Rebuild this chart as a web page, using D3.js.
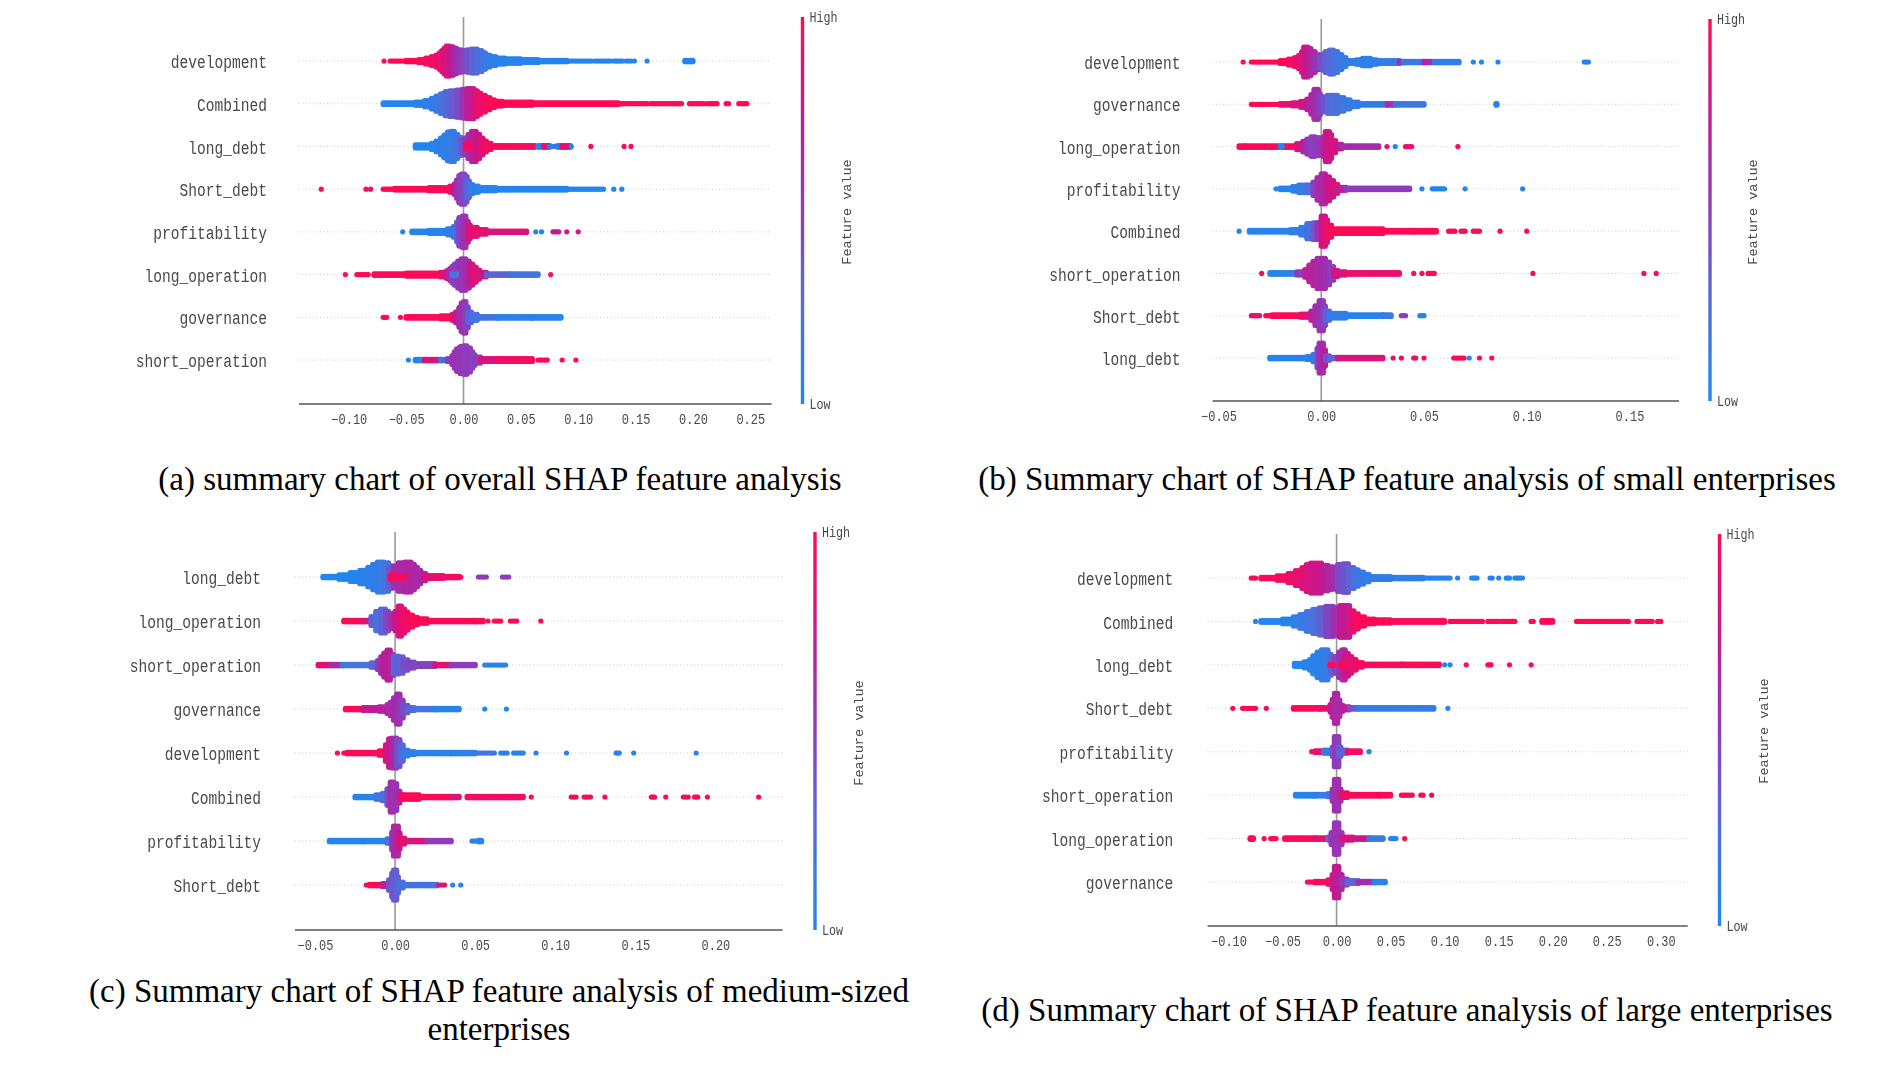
<!DOCTYPE html>
<html><head><meta charset="utf-8">
<script src="https://d3js.org/d3.v7.min.js"></script>
<style>html,body{margin:0;background:#fff}svg{display:block}
.chart{filter:blur(0.55px)}
.mono{font-family:"Liberation Mono",monospace;fill:#4a4a4a}
.cap{font-family:"Liberation Serif",serif;fill:#000;text-anchor:middle}
</style></head><body><svg id="c" width="1902" height="1068"></svg>
<script>
// Each swarm tuple: [shap from, shap to, points stacked at that value, feature value 0..1]
const featuresA=["development","Combined","long_debt","Short_debt","profitability","long_operation","governance","short_operation"];
const featuresB=["development","governance","long_operation","profitability","Combined","short_operation","Short_debt","long_debt"];
const featuresC=["long_debt","long_operation","short_operation","governance","development","Combined","profitability","Short_debt"];
const featuresD=["development","Combined","long_debt","Short_debt","profitability","short_operation","long_operation","governance"];
const ticksA=[-.10,-.05,0,.05,.10,.15,.20,.25];
const ticksB=[-.05,0,.05,.10,.15];
const ticksC=[-.05,0,.05,.10,.15,.20];
const ticksD=[-.10,-.05,0,.05,.10,.15,.20,.25,.30];
const captionA=["(a) summary chart of overall SHAP feature analysis"];
const captionB=["(b) Summary chart of SHAP feature analysis of small enterprises"];
const captionC=["(c) Summary chart of SHAP feature analysis of medium-sized","enterprises"];
const captionD=["(d) Summary chart of SHAP feature analysis of large enterprises"];

const a_development=[[-.0693,-.0693,1,1],[-.064,-.05,1,1],[-.05,-.039,2,1],[-.039,-.033,3,1],[-.033,-.028,5,.97],[-.028,-.024,7,.95],[-.024,-.021,9,.93],[-.021,-.019,12,.9],[-.019,-.017,15,.88],[-.017,-.015,18,.86],[-.015,-.012,21,.82],[-.012,-.009,20,.76],[-.009,-.006,18,.68],[-.006,-.002,16,.58],[-.002,.003,15,.48],[.003,.007,16,.38],[.007,.012,17,.3],[.012,.016,15,.24],[.016,.019,12,.18],[.019,.023,9,.13],[.023,.028,7,.1],[.028,.036,5,.07],[.036,.05,4,.05],[.05,.065,3,.04],[.065,.09,2,.04],[.09,.112,1,.03],[.115,.128,1,.03],[.131,.139,1,.03],[.142,.146,1,.03],[.149,.149,1,.03],[.16,.16,1,.03],[.193,.2,2,.03]];
const a_Combined=[[-.07,-.042,2,.03],[-.042,-.034,3,.05],[-.034,-.028,5,.08],[-.028,-.024,8,.1],[-.024,-.02,11,.15],[-.02,-.016,14,.2],[-.016,-.012,17,.27],[-.012,-.006,18,.33],[-.006,-.001,19,.42],[-.001,.003,20,.55],[.003,.009,21,.72],[.009,.012,18,.85],[.012,.015,15,.9],[.015,.019,12,.93],[.019,.023,9,.96],[.023,.027,6,1],[.027,.034,4,1],[.034,.06,3,1],[.06,.135,2,1],[.137,.16,1,1],[.163,.19,1,1],[.197,.21,1,1],[.213,.221,1,1],[.229,.231,1,1],[.24,.247,1,1]];
const a_long_debt=[[-.042,-.028,3,.03],[-.028,-.024,5,.04],[-.024,-.02,8,.05],[-.02,-.017,12,.07],[-.017,-.014,16,.09],[-.014,-.011,20,.11],[-.011,-.008,21,.13],[-.008,-.005,17,.17],[-.005,-.002,13,.25],[-.002,.001,10,.38],[.001,.004,12,.5],[.004,.007,17,.62],[.007,.011,21,.7],[.011,.014,17,.78],[.014,.017,12,.85],[.017,.02,8,.92],[.02,.024,5,.96],[.024,.062,2,.98],[.065,.07,2,.05],[.07,.075,2,.9],[.075,.08,1,.1],[.082,.085,2,.15],[.086,.093,2,.9],[.094,.094,1,.05],[.111,.111,1,1],[.14,.14,1,1],[.146,.146,1,1],[.002,.006,5,.95]];
const a_Short_debt=[[-.124,-.124,1,1],[-.085,-.085,1,1],[-.081,-.081,1,.9],[-.07,-.06,1,1],[-.06,-.03,2,1],[-.03,-.012,3,1],[-.012,-.008,5,.9],[-.008,-.006,8,.75],[-.006,-.004,13,.6],[-.004,-.002,19,.52],[-.002,.001,21,.48],[.001,.003,18,.4],[.003,.005,12,.3],[.005,.008,7,.18],[.008,.013,5,.1],[.013,.028,3,.05],[.028,.09,2,.04],[.09,.12,1,.04],[.122,.122,1,.03],[.131,.131,1,.03],[.138,.138,1,.03]];
const a_profitability=[[-.053,-.053,1,.03],[-.045,-.03,2,.04],[-.03,-.014,3,.05],[-.014,-.009,5,.08],[-.009,-.006,8,.15],[-.006,-.004,14,.3],[-.004,-.001,20,.45],[-.001,.002,22,.55],[.002,.004,15,.65],[.004,.006,10,.8],[.006,.012,7,.88],[.012,.02,4,.92],[.02,.055,2,.85],[.063,.063,1,.05],[.068,.068,1,.05],[.078,.083,1,.75],[.09,.09,1,.8],[.1,.1,1,.85]];
const a_long_operation=[[-.103,-.103,1,1],[-.093,-.083,1,1],[-.078,-.05,2,1],[-.05,-.02,3,1],[-.02,-.015,4,.9],[-.015,-.012,6,.75],[-.012,-.01,9,.6],[-.01,-.008,12,.5],[-.008,-.005,15,.48],[-.005,-.002,19,.52],[-.002,.002,22,.55],[.002,.005,19,.62],[.005,.008,15,.75],[.008,.011,11,.85],[.011,.014,7,.88],[.014,.02,4,.8],[.02,.04,2,.3],[.04,.065,2,.2],[.076,.076,1,1],[-.01,-.006,2,.2]];
const a_governance=[[-.07,-.067,1,1],[-.055,-.055,1,1],[-.05,-.02,2,1],[-.02,-.01,3,.97],[-.01,-.007,5,.9],[-.007,-.004,8,.75],[-.004,-.002,14,.62],[-.002,0,20,.58],[0,.002,22,.55],[.002,.004,15,.45],[.004,.007,8,.3],[.007,.012,5,.2],[.012,.03,2,.2],[.03,.06,2,.07],[.06,.085,2,.05]];
const a_short_operation=[[-.048,-.048,1,.03],[-.042,-.034,2,.04],[-.034,-.02,2,.85],[-.02,-.014,2,.2],[-.014,-.01,3,.5],[-.01,-.008,7,.55],[-.008,-.006,12,.55],[-.006,-.003,16,.55],[-.003,0,19,.55],[0,.003,20,.5],[.003,.006,17,.5],[.006,.008,12,.5],[.008,.01,8,.45],[.01,.015,5,.5],[.015,.03,3,.85],[.03,.06,3,.95],[.065,.073,1,1],[.086,.086,1,1],[.098,.098,1,1]];

const b_development=[[-.038,-.038,1,1],[-.034,-.02,1,1],[-.02,-.016,3,1],[-.016,-.013,5,.97],[-.013,-.011,7,.93],[-.011,-.0095,10,.88],[-.0095,-.0085,15,.85],[-.0085,-.0065,21,.78],[-.0065,-.005,19,.72],[-.005,-.003,15,.64],[-.003,-.001,11,.55],[-.001,.001,9,.42],[.001,.002,12,.35],[.002,.004,15,.3],[.004,.006,17,.27],[.006,.008,15,.22],[.008,.01,11,.18],[.01,.012,7,.12],[.012,.017,3,.1],[.017,.02,4,.08],[.02,.024,6,.07],[.024,.027,4,.08],[.027,.038,3,.12],[.038,.04,2,.6],[.04,.05,2,.15],[.05,.054,2,.65],[.055,.067,2,.1],[.074,.074,1,.05],[.078,.078,1,.05],[.086,.086,1,.05],[.128,.13,1,.05]];
const b_governance=[[-.034,-.02,1,1],[-.02,-.014,2,.9],[-.014,-.01,3,.85],[-.01,-.007,5,.8],[-.007,-.005,8,.72],[-.005,-.0035,14,.66],[-.0035,-.0015,21,.6],[-.0015,-.0005,15,.52],[-.0005,.001,10,.45],[.001,.003,11,.38],[.003,.005,13,.28],[.005,.008,13,.24],[.008,.011,10,.2],[.011,.014,7,.15],[.014,.018,4,.12],[.018,.032,2,.1],[.032,.036,2,.6],[.036,.05,2,.15],[.085,.0855,2,.05]];
const b_long_operation=[[-.04,-.037,2,1],[-.037,-.012,2,1],[-.012,-.009,5,.85],[-.009,-.007,8,.7],[-.007,-.005,11,.55],[-.005,-.003,14,.48],[-.003,-.001,13,.5],[-.001,.001,8,.55],[.001,.002,14,.68],[.002,.004,21,.78],[.004,.005,17,.8],[.005,.007,9,.85],[.007,.01,4,.75],[.01,.028,2,.6],[.032,.032,1,.9],[.036,.036,1,.05],[.041,.044,1,.9],[.0665,.0665,1,1],[-.02,-.019,2,.05]];
const b_profitability=[[-.022,-.022,1,.05],[-.02,-.014,2,.05],[-.014,-.011,4,.08],[-.011,-.007,6,.12],[-.007,-.004,6,.25],[-.004,-.002,10,.45],[-.002,0,16,.6],[0,.002,21,.65],[.002,.004,17,.75],[.004,.006,12,.8],[.006,.008,7,.85],[.008,.012,3,.7],[.012,.043,2,.5],[.049,.049,1,.03],[.054,.06,1,.03],[.07,.07,1,.03],[.098,.098,1,.03]];
const b_Combined=[[-.04,-.04,1,.03],[-.035,-.015,2,.05],[-.015,-.01,3,.08],[-.01,-.007,6,.12],[-.007,-.004,11,.2],[-.004,-.002,12,.35],[-.002,0,12,.55],[0,.002,21,.8],[.002,.003,16,.88],[.003,.005,9,.95],[.005,.03,4,1],[.03,.045,2,1],[.045,.056,2,1],[.062,.065,1,1],[.068,.07,1,1],[.074,.077,1,1],[.087,.087,1,1],[.1,.1,1,1]];
const b_short_operation=[[-.029,-.029,1,1],[-.025,-.012,2,.05],[-.012,-.008,3,.5],[-.008,-.006,6,.68],[-.006,-.004,12,.7],[-.004,-.002,17,.68],[-.002,.002,21,.62],[.002,.004,16,.55],[.004,.006,10,.5],[.006,.008,5,.8],[.008,.012,3,.85],[.012,.038,2,.9],[.045,.045,1,1],[.049,.049,1,1],[.052,.055,1,1],[.103,.103,1,1],[.157,.157,1,1],[.163,.163,1,1]];
const b_Short_debt=[[-.034,-.03,1,.9],[-.027,-.025,1,1],[-.024,-.01,2,1],[-.01,-.005,3,.9],[-.005,-.003,7,.7],[-.003,-.001,14,.6],[-.001,.001,21,.55],[.001,.002,14,.45],[.002,.004,7,.3],[.004,.012,4,.1],[.012,.03,2,.05],[.03,.034,2,.15],[.039,.041,1,.5],[.048,.05,1,.05]];
const b_long_debt=[[-.025,-.007,2,.05],[-.007,-.004,3,.08],[-.004,-.002,6,.15],[-.002,-.001,14,.4],[-.001,.001,21,.6],[.001,.002,12,.7],[.002,.004,4,.4],[.004,.008,2,.3],[.008,.03,2,.85],[.035,.035,1,.9],[.039,.039,1,1],[.045,.046,1,.9],[.05,.05,1,1],[.0645,.0695,1,1],[.072,.072,1,.05],[.077,.077,1,1],[.083,.083,1,1]];

const c_long_debt=[[-.045,-.035,2,.03],[-.035,-.028,4,.02],[-.028,-.022,7,.03],[-.022,-.017,10,.05],[-.017,-.014,14,.08],[-.014,-.011,18,.1],[-.011,-.007,21,.13],[-.007,-.004,20,.2],[-.004,-.001,16,.35],[-.001,.002,15,.6],[.002,.006,20,.62],[.006,.01,21,.66],[.01,.012,18,.65],[.012,.014,14,.65],[.014,.016,10,.6],[.016,.019,6,.7],[.019,.03,3,.88],[.03,.04,2,.95],[.041,.041,1,1],[.052,.057,1,.5],[.067,.071,1,.5],[-.003,.001,4,.97],[.003,.006,3,.97]];
const c_long_operation=[[-.032,-.02,2,1],[-.02,-.015,2,.85],[-.015,-.012,7,.3],[-.012,-.009,14,.22],[-.009,-.006,17,.3],[-.006,-.004,14,.42],[-.004,-.002,11,.5],[-.002,0,8,.65],[0,.002,14,.78],[.002,.004,21,.85],[.004,.006,17,.9],[.006,.008,13,.93],[.008,.011,9,.97],[.011,.014,6,1],[.014,.02,4,1],[.02,.05,2,1],[.05,.055,2,1],[.058,.058,1,1],[.062,.066,1,1],[.072,.076,1,1],[.091,.091,1,1]];
const c_short_operation=[[-.048,-.04,2,.9],[-.04,-.033,2,.6],[-.033,-.015,2,.2],[-.015,-.011,4,.3],[-.011,-.009,7,.5],[-.009,-.007,12,.62],[-.007,-.005,17,.72],[-.005,-.003,21,.72],[-.003,-.001,15,.65],[-.001,.002,13,.3],[.002,.005,12,.32],[.005,.008,8,.4],[.008,.012,5,.45],[.012,.025,3,.45],[.025,.035,2,.9],[.035,.05,2,.5],[.056,.069,1,.05]];
const c_governance=[[-.031,-.02,2,1],[-.02,-.01,3,.75],[-.01,-.005,4,.7],[-.005,-.003,7,.65],[-.003,-.001,10,.6],[-.001,.001,16,.62],[.001,.003,21,.6],[.003,.005,13,.5],[.005,.008,6,.4],[.008,.012,3,.3],[.012,.025,2,.2],[.025,.04,2,.05],[.056,.056,1,.05],[.0695,.0695,1,.05]];
const c_development=[[-.036,-.036,1,1],[-.032,-.032,1,1],[-.03,-.01,2,1],[-.01,-.006,4,.95],[-.006,-.004,12,.85],[-.004,-.002,20,.75],[-.002,.001,21,.65],[.001,.003,19,.4],[.003,.005,12,.3],[.005,.008,5,.15],[.008,.012,3,.1],[.012,.035,2,.05],[.035,.05,2,.05],[.05,.062,1,.2],[.066,.07,1,.05],[.074,.08,1,.05],[.088,.088,1,.05],[.107,.107,1,.05],[.138,.14,1,.05],[.149,.149,1,.05],[.188,.188,1,.05]];
const c_Combined=[[-.025,-.012,2,.05],[-.012,-.008,4,.15],[-.008,-.005,6,.25],[-.005,-.003,12,.4],[-.003,-.001,21,.6],[-.001,.001,19,.55],[.001,.003,9,.6],[.003,.005,4,.85],[.005,.015,4,1],[.015,.035,2,1],[.035,.04,2,.85],[.045,.08,2,.95],[.085,.085,1,1],[.11,.113,1,1],[.118,.122,1,1],[.131,.131,1,1],[.16,.162,1,1],[.169,.169,1,1],[.18,.183,1,1],[.187,.189,1,1],[.195,.195,1,1],[.227,.227,1,1]];
const c_profitability=[[-.041,-.02,2,.03],[-.02,-.005,2,.05],[-.005,-.002,4,.25],[-.002,-.001,13,.5],[-.001,.002,21,.65],[.002,.003,12,.75],[.003,.006,5,.92],[.006,.02,2,.85],[.02,.035,2,.5],[.048,.05,1,.05],[.052,.054,2,.05]];
const c_Short_debt=[[-.018,-.018,1,.9],[-.016,-.008,2,1],[-.008,-.004,3,.7],[-.004,-.002,8,.4],[-.002,-.001,17,.35],[-.001,.001,21,.35],[.001,.002,12,.3],[.002,.005,5,.25],[.005,.026,2,.2],[.027,.031,1,.85],[.036,.036,1,.05],[.041,.041,1,.05]];

const d_development=[[-.079,-.075,1,1],[-.07,-.055,2,1],[-.055,-.045,4,.97],[-.045,-.038,7,.93],[-.038,-.032,11,.9],[-.032,-.028,15,.87],[-.028,-.024,19,.85],[-.024,-.014,21,.8],[-.014,-.008,18,.72],[-.008,-.003,16,.65],[-.003,.001,15,.58],[.001,.006,19,.42],[.006,.011,20,.38],[.011,.016,15,.3],[.016,.02,12,.22],[.02,.025,9,.15],[.025,.03,6,.12],[.03,.05,3,.1],[.05,.08,2,.1],[.08,.105,1,.03],[.112,.112,1,.03],[.125,.13,1,.03],[.142,.144,1,.03],[.15,.15,1,.03],[.157,.16,1,.03],[.165,.172,1,.03]];
const d_Combined=[[-.075,-.075,1,.03],[-.07,-.05,2,.03],[-.05,-.04,4,.05],[-.04,-.034,7,.08],[-.034,-.028,10,.13],[-.028,-.022,14,.18],[-.022,-.016,17,.25],[-.016,-.01,19,.32],[-.01,-.003,21,.45],[-.003,.003,19,.6],[.003,.012,22,.75],[.012,.016,15,.88],[.016,.02,11,.93],[.02,.026,7,1],[.026,.035,4,1],[.035,.05,3,1],[.05,.1,2,1],[.105,.135,1,1],[.14,.15,1,1],[.153,.165,1,1],[.18,.182,1,1],[.19,.2,2,1],[.222,.27,1,1],[.278,.292,1,1],[.297,.3,1,1]];
const d_long_debt=[[-.039,-.03,3,.03],[-.03,-.025,5,.03],[-.025,-.022,8,.04],[-.022,-.018,13,.05],[-.018,-.014,18,.08],[-.014,-.008,21,.1],[-.008,-.005,15,.22],[-.005,-.002,12,.32],[-.002,.002,12,.45],[.002,.005,18,.55],[.005,.008,21,.65],[.008,.011,16,.78],[.011,.014,12,.85],[.014,.018,8,.9],[.018,.024,4,.95],[.024,.06,2,.98],[.06,.095,2,1],[.1,.1,1,.05],[.105,.105,1,.05],[.12,.12,1,1],[.14,.143,1,1],[.16,.16,1,1],[.18,.18,1,1],[-.006,-.003,2,1],[.004,.007,3,1]];
const d_Short_debt=[[-.096,-.096,1,1],[-.087,-.075,1,1],[-.065,-.065,1,1],[-.04,-.015,2,1],[-.015,-.006,2,.9],[-.006,-.004,6,.8],[-.004,-.002,13,.7],[-.002,.001,21,.65],[.001,.003,12,.6],[.003,.006,5,.65],[.006,.012,3,.7],[.012,.02,2,.4],[.02,.09,2,.1],[.103,.103,1,.03]];
const d_profitability=[[-.023,-.023,1,1],[-.02,-.012,2,.9],[-.012,-.004,3,.15],[-.004,-.002,7,.35],[-.002,.002,21,.5],[.002,.004,7,.35],[.004,.01,3,.3],[.01,.022,2,.95],[.03,.03,1,.03]];
const d_short_operation=[[-.038,-.02,2,.03],[-.02,-.008,2,.1],[-.008,-.004,3,.2],[-.004,-.002,9,.5],[-.002,.002,22,.58],[.002,.004,9,.6],[.004,.01,4,.85],[.01,.04,2,1],[.04,.05,2,1],[.06,.07,1,1],[.078,.08,1,1],[.088,.088,1,1]];
const d_long_operation=[[-.08,-.077,2,1],[-.067,-.067,1,1],[-.061,-.056,1,1],[-.048,-.02,2,1],[-.02,-.008,2,.9],[-.008,-.005,3,.3],[-.005,-.002,9,.55],[-.002,.002,22,.55],[.002,.005,9,.55],[.005,.015,3,.85],[.015,.03,2,.8],[.03,.043,2,.15],[.05,.055,1,.05],[.063,.063,1,1]];
const d_governance=[[-.027,-.02,1,.95],[-.02,-.008,2,1],[-.008,-.004,4,.9],[-.004,-.002,11,.8],[-.002,.002,22,.75],[.002,.005,11,.7],[.005,.01,5,.5],[.01,.02,3,.3],[.02,.035,2,.6],[.035,.045,2,.05]];

const swarmA=[a_development,a_Combined,a_long_debt,a_Short_debt,a_profitability,a_long_operation,a_governance,a_short_operation];
const swarmB=[b_development,b_governance,b_long_operation,b_profitability,b_Combined,b_short_operation,b_Short_debt,b_long_debt];
const swarmC=[c_long_debt,c_long_operation,c_short_operation,c_governance,c_development,c_Combined,c_profitability,c_Short_debt];
const swarmD=[d_development,d_Combined,d_long_debt,d_Short_debt,d_profitability,d_short_operation,d_long_operation,d_governance];

const layouts=[
 {f:featuresA,s:swarmA,t:ticksA,cap:captionA,capX:500,capY:[490],t0:-.10,t1:.25,x0:348.8,x1:750.3,ax0:299,ax1:771.6,axY:404,top:17,r0:61,r1:360,lab:267,cb:802.5,fvx:851,fvy:212},
 {f:featuresB,s:swarmB,t:ticksB,cap:captionB,capX:1407,capY:[490],t0:-.05,t1:.15,x0:1218.5,x1:1629.5,ax0:1212.6,ax1:1679,axY:401,top:19,r0:62,r1:358,lab:1180.5,cb:1710,fvx:1757,fvy:212},
 {f:featuresC,s:swarmC,t:ticksC,cap:captionC,capX:499,capY:[1002,1040],t0:-.05,t1:.20,x0:315,x1:715.4,ax0:295,ax1:782.6,axY:930,top:532,r0:577,r1:885,lab:261,cb:815,fvx:863,fvy:733},
 {f:featuresD,s:swarmD,t:ticksD,cap:captionD,capX:1407,capY:[1021],t0:-.10,t1:.30,x0:1228.5,x1:1660.8,ax0:1207.6,ax1:1687.7,axY:926,top:534,r0:578,r1:882,lab:1173.3,cb:1719.5,fvx:1768,fvy:731}
];
const color=d3.scaleLinear().domain([0,.25,.5,.75,1]).range(["#1e88f0","#4f6fdc","#8f3cbc","#c21a92","#ff0a57"]).clamp(true);
const svg=d3.select("#c");
const grad=svg.append("defs").append("linearGradient").attr("id","cbar").attr("x1",0).attr("x2",0).attr("y1",1).attr("y2",0);
d3.range(0,1.01,.1).forEach(v=>grad.append("stop").attr("offset",v).attr("stop-color",color(v)));
const STEP=1.5,DX=2,R=2.6,YS=1.2;
layouts.forEach(L=>{
 const g=svg.append("g").attr("class","chart");
 const x=d3.scaleLinear().domain([L.t0,L.t1]).range([L.x0,L.x1]);
 const y=d3.scalePoint().domain(L.f).range([L.r0,L.r1]);
 g.selectAll(".row").data(L.f).join("line").attr("x1",L.ax0).attr("x2",L.ax1).attr("y1",d=>y(d)).attr("y2",d=>y(d)).attr("stroke","#ccc").attr("stroke-width",1).attr("stroke-dasharray","1,2.5");
 g.append("line").attr("x1",x(0)).attr("x2",x(0)).attr("y1",L.top).attr("y2",L.axY).attr("stroke","#999").attr("stroke-width",1.6);
 L.f.forEach((name,i)=>{
  const pts=[];
  L.s[i].forEach(([a,b,n,fv])=>{
    const cols=Math.max(1,Math.round((x(b)-x(a))/DX)+1);
    for(let c=0;c<cols;c++){
      const v=cols===1?a:a+(b-a)*c/(cols-1);
      for(let k=0;k<n;k++) pts.push({v,o:(k-(n-1)/2)*STEP,fv});
    }
  });
  g.append("g").selectAll("circle").data(pts).join("circle").attr("cx",d=>x(d.v)).attr("cy",d=>y(name)+d.o).attr("r",R).attr("fill",d=>color(d.fv));
  g.append("text").attr("class","mono").attr("transform",`translate(${L.lab},${y(name)+7.2}) scale(1,${YS})`).attr("text-anchor","end").style("font-size","14.6px").text(name);
 });
 const ax=g.append("g").attr("transform",`translate(0,${L.axY})`).call(d3.axisBottom(x).tickValues(L.t).tickSize(0).tickPadding(0).tickFormat(d3.format(".2f")));
 ax.select(".domain").attr("d",`M${L.ax0},0H${L.ax1}`).attr("stroke","#555").attr("stroke-width",1.4);
 ax.selectAll("text").attr("class","mono").attr("y",0).attr("dy",0).attr("transform",`translate(0,20) scale(1,${YS})`).style("font-size","12px").style("font-family",'"Liberation Mono",monospace').attr("fill","#4a4a4a");
 g.append("rect").attr("x",L.cb-1.7).attr("y",L.top).attr("width",3.4).attr("height",L.axY-L.top).attr("fill","url(#cbar)");
 g.append("text").attr("class","mono").attr("transform",`translate(${L.cb+7},${L.top+5}) scale(1,${YS})`).style("font-size","11.7px").text("High");
 g.append("text").attr("class","mono").attr("transform",`translate(${L.cb+7},${L.axY+5}) scale(1,${YS})`).style("font-size","11.7px").text("Low");
 g.append("text").attr("class","mono").attr("transform",`translate(${L.fvx},${L.fvy}) rotate(-90)`).attr("text-anchor","middle").style("font-size","13.5px").text("Feature value");
 L.cap.forEach((t,i)=>svg.append("text").attr("class","cap").attr("x",L.capX).attr("y",L.capY[i]).style("font-size","33px").text(t));
});
</script></body></html>
